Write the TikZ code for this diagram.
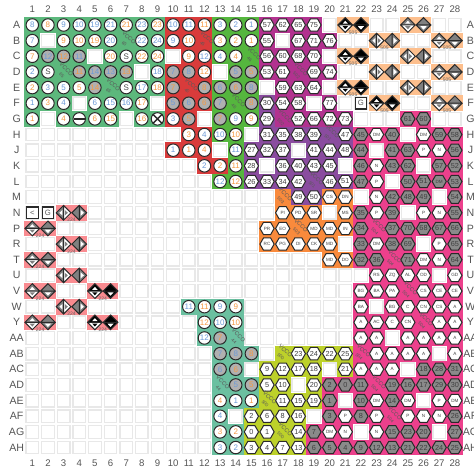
\documentclass[tikz,border=0pt]{standalone}
\usepackage{fontspec}
\setmainfont{Liberation Sans}
\usepackage{xcolor}
\usepackage{tikz}
\usetikzlibrary{shapes.geometric}
\definecolor{bankhp}{HTML}{5CB87C}
\definecolor{bankred}{HTML}{D93B3B}
\definecolor{bankgrn}{HTML}{55B63E}
\definecolor{bankmag}{HTML}{B2328F}
\definecolor{bankpur}{HTML}{8A4C9F}
\definecolor{bankorg}{HTML}{F98A3C}
\definecolor{bankgtr}{HTML}{FDBF8D}
\definecolor{bankgth}{HTML}{F98B90}
\definecolor{bankpnk}{HTML}{EC408C}
\definecolor{bankteal}{HTML}{6BC0A0}
\definecolor{banklime}{HTML}{BDD12A}
\definecolor{txtblue}{HTML}{6E9BD8}
\definecolor{txtorg}{HTML}{F59A45}
\definecolor{pinline}{HTML}{2A2A2A}
\definecolor{pingray}{HTML}{B0B0B0}
\definecolor{hexgray}{HTML}{8A8A8A}
\definecolor{holeline}{HTML}{E8E8E8}
\definecolor{axistxt}{HTML}{555555}

\begin{document}
\begin{tikzpicture}[
  x=15.65pt, y=-15.65pt,
  hole/.style={rectangle, draw=holeline, fill=white, line width=1.3pt, inner sep=0pt, minimum size=12.6pt},
  axis/.style={font=\fontsize{9.6}{10}\selectfont, text=axistxt, inner sep=0pt},
  rowlab/.style={font=\fontsize{10.6}{11}\selectfont, text=axistxt, inner sep=0pt},
  pinc/.style={circle, draw=pinline, fill=white, line width=1pt, inner sep=0pt, minimum size=12.5pt, font=\fontsize{8}{8}\selectfont},
  pinb/.style={pinc, text=txtblue},
  pino/.style={pinc, text=txtorg},
  grayb/.style={pinb, fill=pingray},
  grayo/.style={pino, fill=pingray},
  hexw/.style={regular polygon, regular polygon sides=6, draw=pinline, fill=white, line width=1pt, inner sep=0pt, minimum size=14.2pt, text=black!75, font=\fontsize{7.3}{8}\selectfont},
  hexg/.style={hexw, fill=hexgray},
  smalltxt/.style={font=\fontsize{4.6}{5}\selectfont},
  sqpin/.style={rectangle, draw=pinline, fill=white, line width=1.2pt, inner sep=0pt, minimum size=11.6pt, text=black!65, font=\fontsize{7.7}{8}\selectfont},
  vcc/.style={rotate=-45, inner sep=0pt, text=black!65, font=\fontsize{5.7}{6}\selectfont},
  vccn/.style={vcc, font=\fontsize{4.6}{5}\selectfont},
  gtlab/.style={inner sep=0pt, text=black!60, font=\fontsize{5}{6}\selectfont},
  dpina/.pic={
    \fill[#1] (-.47,0) -- (0,-.47) -- (.47,0) -- cycle;
    \fill[white] (-.17,-.08) -- (0,-.27) -- (.17,-.08) -- cycle;
    \fill[white] (-.47,0) -- (0,.47) -- (.47,0) -- cycle;
    \fill[#1] (-.17,.08) -- (.17,.08) -- (0,.27) -- cycle;
    \draw[pinline, line width=1pt, line join=miter] (-.47,0) -- (0,-.47) -- (.47,0) -- (0,.47) -- cycle (-.47,0) -- (.47,0);
  },
  dpinb/.pic={
    \fill[#1] (-.47,0) -- (0,-.47) -- (.47,0) -- cycle;
    \fill[#1] (-.47,0) -- (0,.47) -- (.47,0) -- cycle;
    \fill[white] (-.2,.08) -- (.2,.08) -- (0,.3) -- cycle;
    \draw[pinline, line width=1pt, line join=miter] (-.47,0) -- (0,-.47) -- (.47,0) -- (0,.47) -- cycle (-.47,0) -- (.47,0);
  }
]
\useasboundingbox (-1.064,-.597) rectangle (29.224,29.563);

% axis labels
\foreach \c in {1,...,28} {
  \node[axis] at (\c,0) {\c};
  \node[axis] at (\c,29) {\c};
}
\foreach \r/\t in {1/A,2/B,3/C,4/D,5/E,6/F,7/G,8/H,9/J,10/K,11/L,12/M,13/N,14/P,15/R,16/T,17/U,18/V,19/W,20/Y,21/AA,22/AB,23/AC,24/AD,25/AE,26/AF,27/AG,28/AH} {
  \node[rowlab] at (0,\r) {\t};
  \node[rowlab] at (29,\r) {\t};
}

% empty sites
\foreach \c in {1,...,28} \foreach \r in {1,...,28} \node[hole] at (\c,\r) {};

% banks: colour, first col, last col, first row, last row
\foreach \k/\a/\b/\r/\s in {bankhp/1/9/1/7,
  bankred/10/12/1/7, bankred/11/12/8/8, bankred/10/12/9/9, bankred/12/13/10/10,
  bankgrn/13/15/1/7, bankgrn/13/14/8/8, bankgrn/14/14/9/10, bankgrn/13/14/11/11,
  bankmag/16/20/1/5, bankmag/17/20/6/6, bankmag/17/21/7/7,
  bankpur/16/16/6/7, bankpur/16/21/8/8, bankpur/15/21/9/11, bankpur/18/19/12/12,
  bankorg/17/17/12/12, bankorg/20/21/12/12, bankorg/17/21/13/13, bankorg/16/21/14/15, bankorg/20/21/16/16,
  bankgtr/21/22/1/1, bankgtr/25/26/1/1, bankgtr/23/24/2/2, bankgtr/27/28/2/2,
  bankgtr/21/22/3/3, bankgtr/25/26/3/3, bankgtr/23/24/4/4, bankgtr/27/28/4/4,
  bankgtr/21/22/5/5, bankgtr/25/26/5/5, bankgtr/23/24/6/6, bankgtr/27/28/6/6,
  bankgth/3/4/13/13, bankgth/1/2/14/14, bankgth/3/4/15/15, bankgth/1/2/16/16, bankgth/3/4/17/17,
  bankgth/1/2/18/18, bankgth/5/6/18/18, bankgth/3/4/19/19, bankgth/1/2/20/20, bankgth/5/6/20/20,
  bankpnk/25/26/7/7, bankpnk/22/28/8/23, bankpnk/20/28/24/26, bankpnk/19/28/27/28,
  bankteal/11/14/19/19, bankteal/12/14/20/21, bankteal/13/15/22/25, bankteal/13/14/26/28,
  banklime/17/21/22/22, banklime/16/21/23/23, banklime/16/19/24/25, banklime/15/19/26/26, banklime/15/18/27/28}
  \fill[\k] (\a-.5,\r-.5) rectangle (\b+.5,\s+.5);

% holes inside the banks
\foreach \c/\r in {2/2,5/3,8/4,4/6,9/6,2/7,7/7, 10/3,12/7, 13/4, 20/1,17/2,20/3,16/5,20/5,19/6,
  18/9,16/10,21/10, 20/13,21/15, 25/8,23/9,26/10,24/11,22/12,27/12,25/13,26/15,22/17,27/17,23/19,24/21,27/22,25/23,21/25,26/25,22/27,27/27,
  14/26,15/23, 20/23,18/24,19/26} {
  \fill[white] (\c-.49,\r-.49) rectangle (\c+.49,\r+.49);
  \node[hole] at (\c,\r) {};
}

% user I/O
\foreach \c/\r/\t in {1/1/8,3/1/9,4/1/10,5/1/19,6/1/21,8/1/23,10/1/10,11/1/11,13/1/3,14/1/2,15/1/1,
  1/2/7,6/2/20,8/2/22,9/2/24,10/2/9,12/3/12,13/3/4,1/4/2,9/4/18,2/5/3,3/5/5,8/5/17,
  1/6/1,3/6/4,5/6/6,6/6/15,7/6/16,10/7/3,14/7/9,12/8/4,13/8/10,10/9/1,14/9/11,12/10/2,13/11/12,
  11/19/11,13/19/9,13/20/10,12/21/12,14/25/1,13/26/4,13/28/3,14/28/2}
  \node[pinb] at (\c,\r) {\t};
\foreach \c/\r/\t in {2/1/8,7/1/21,9/1/23,12/1/11,3/2/9,4/2/10,5/2/19,11/2/10,13/2/3,14/2/2,15/2/1,
  1/3/7,6/3/20,8/3/22,9/3/24,11/3/9,14/3/4,12/4/12,1/5/2,4/5/5,9/5/18,2/6/3,8/6/17,
  1/7/1,3/7/4,5/7/6,6/7/15,8/7/16,15/7/9,11/8/3,14/8/10,11/9/1,12/9/4,13/10/2,14/10/11,14/11/12,
  12/19/11,14/19/9,12/20/12,14/20/10,13/25/4,15/25/1,13/27/3,14/27/2}
  \node[pino] at (\c,\r) {\t};
\foreach \c/\r/\t in {2/3/12,4/3/11,5/4/14,6/4/13,10/4/7,11/4/8,14/4/5,13/5/6,15/5/8,10/6/5,11/6/6,13/6/7,13/22/7,14/22/8,13/23/6,14/24/5}
  \node[grayb] at (\c,\r) {\t};
\foreach \c/\r/\t in {3/3/12,4/4/11,7/4/13,15/4/5,5/5/14,10/5/7,12/5/8,14/5/6,12/6/6,15/6/8,11/7/5,13/7/7,13/21/7,15/22/8,14/23/6,15/24/5}
  \node[grayo] at (\c,\r) {\t};

% special pins
\foreach \c/\r in {7/3,2/4,7/5} \node[pinc, text=black!70] at (\c,\r) {S};
\node[pinc] (pinbar) at (4,7) {};
\fill[pinline] ([xshift=-5.6pt,yshift=-1.1pt]pinbar.center) rectangle ([xshift=5.6pt,yshift=1.1pt]pinbar.center);
\node[pinc] (pincross) at (9,7) {};
\draw[pinline, line width=1.5pt] (pincross.45) -- (pincross.225) (pincross.135) -- (pincross.315);
\node[sqpin] at (22,6) {G};
\node[sqpin] at (1,13) {<};
\node[sqpin] at (2,13) {G};

% hexagons, white
\foreach \c/\r/\t in {16/1/57,17/1/62,18/1/65,19/1/75,16/2/55,18/2/67,19/2/71,20/2/76,16/3/56,17/3/60,18/3/68,19/3/70,
  16/4/53,17/4/61,19/4/69,20/4/74,17/5/59,18/5/63,19/5/64,16/6/30,17/6/54,18/6/58,20/6/77,
  16/7/29,18/7/52,19/7/66,20/7/72,21/7/73,16/8/31,17/8/35,18/8/38,19/8/39,21/8/47,
  15/9/27,16/9/32,17/9/37,19/9/41,20/9/44,21/9/48,15/10/28,17/10/36,18/10/40,19/10/43,20/10/45,
  15/11/26,16/11/33,17/11/34,18/11/42,20/11/46,21/11/51,18/12/49,19/12/50,
  18/22/23,19/22/24,20/22/22,21/22/25,16/23/9,17/23/12,18/23/17,19/23/18,21/23/21,16/24/5,17/24/10,19/24/20,
  17/25/11,18/25/15,19/25/19,15/26/2,16/26/6,17/26/8,18/26/16,15/27/0,16/27/1,18/27/14,15/28/3,16/28/4,17/28/7,18/28/13}
  \node[hexw] at (\c,\r) {\t};
\foreach \c/\r/\t in {20/12/CS,21/12/DN,17/13/PI,18/13/PD,19/13/SR,21/13/MS,16/14/PR,17/14/EO,19/14/MD,20/14/MD,21/14/IN,
  16/15/RC,17/15/PG,18/15/DI,19/15/CK,20/15/MD,20/16/MD,21/16/DO,
  23/8/DM,26/8/DM,26/9/P,27/9/N,23/10/N,23/11/P,23/12/N,23/13/P,26/13/P,27/13/N,23/15/DM,27/15/P,26/16/DM,27/16/N,
  23/17/RS,24/17/ZQ,25/17/AL,26/17/OD,28/17/GD,22/18/BG,23/18/BA,24/18/PA,26/18/CS,27/18/CE,28/18/CE,
  22/19/BA,24/19/BG,25/19/C,26/19/CN,27/19/CS,28/19/A,22/20/A,23/20/AC,24/20/C,25/20/CN,27/20/A,28/20/A,
  22/21/A,23/21/A,25/21/A,26/21/A,27/21/A,28/21/A,23/22/A,24/22/A,25/22/A,26/22/A,28/22/A,22/23/A,23/23/A,24/23/A,
  23/25/DM,25/25/DM,27/25/P,28/25/DM,21/26/P,23/26/P,25/26/P,26/26/N,27/26/N,20/27/DM,21/27/N,23/27/N}
  \node[hexw, smalltxt] at (\c,\r) {\t};

% hexagons, gray
\foreach \c/\r/\t in {25/7/61,26/7/60,22/8/45,24/8/40,27/8/59,28/8/58,22/9/44,24/9/41,25/9/63,28/9/56,
  22/10/46,24/10/43,25/10/62,27/10/57,28/10/52,22/11/47,25/11/50,26/11/51,28/11/53,24/12/42,25/12/48,26/12/49,28/12/54,
  22/13/35,24/13/39,28/13/55,22/14/34,24/14/37,25/14/70,26/14/68,27/14/67,28/14/66,22/15/33,24/15/38,25/15/69,28/15/65,
  22/16/32,23/16/36,25/16/71,28/16/64,26/23/18,27/23/28,28/23/31,20/24/2,21/24/0,22/24/11,24/24/19,25/24/16,26/24/17,27/24/29,28/24/30,
  20/25/1,22/25/10,24/25/14,20/26/3,22/26/8,28/26/26,19/27/7,24/27/15,25/27/23,26/27/20,28/27/27,
  19/28/6,20/28/5,21/28/4,22/28/9,23/28/12,24/28/13,25/28/21,26/28/22,27/28/24,28/28/25}
  \node[hexg] at (\c,\r) {\t};
\node[hexg, smalltxt] at (27,11) {DM};

% transceiver pairs: first col, row, rotation, colour
\foreach \c/\r/\a/\k in {21/1/0/black,25/1/0/black!50,23/2/90/black!50,27/2/0/black!50,21/3/0/black,25/3/90/black!50,23/4/90/black!50,27/4/0/black!50,
  21/5/0/black,25/5/90/black!50,23/6/0/black,27/6/0/black!50,
  3/13/90/black!50,1/14/0/black!50,3/15/90/black!50,1/16/0/black!50,3/17/90/black!50,1/18/0/black!50,5/18/0/black,3/19/90/black!50,1/20/0/black!50,5/20/0/black} {
  \pic[rotate=\a] at (\c,\r) {dpina=\k};
  \pic[rotate=\a] at (\c+1,\r) {dpinb=\k};
}
\foreach \c/\r/\t in {21/1/505,23/2/505,27/2/505,21/3/505,27/4/505,21/5/505,23/6/505,27/6/505,
  3/13/224,1/14/224,3/15/224,1/16/224,1/18/224,5/18/224,3/19/224,1/20/224,5/20/224}
  \node[gtlab] at (\c+.5,\r+.47) {\t};

% supply sites
\foreach \c/\r/\t in {7/2/65,3/4/65,6/5/65,12/2/45,11/5/45,15/3/46,14/6/46,18/4/502,17/7/502,20/8/501,19/11/501,17/12/503,18/14/503,
  23/14/504,24/16/504,25/18/504,26/20/504,22/22/504,23/24/504,24/26/504,14/21/44,13/24/44,17/22/500,16/25/500,17/27/500} {
  \node[vcc] at (\c+.18,\r-.18) {VCCO};
  \node[vccn] at (\c-.12,\r+.2) {\t};
}
\end{tikzpicture}
\end{document}
